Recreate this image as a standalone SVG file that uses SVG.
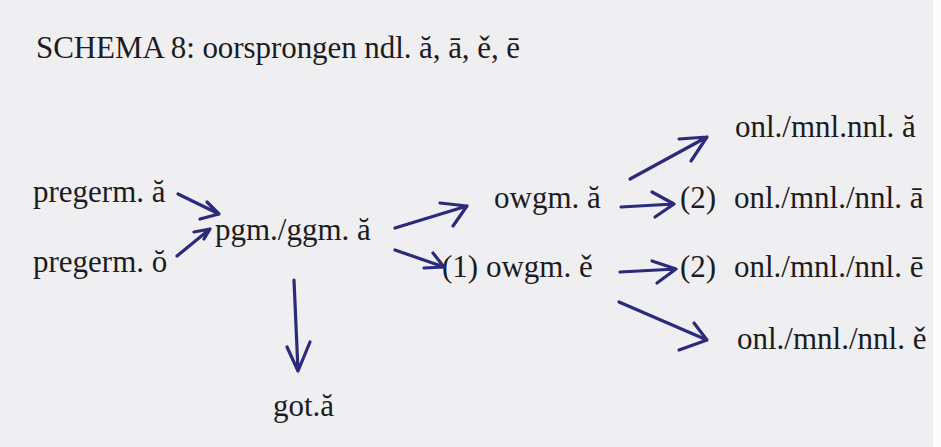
<svg xmlns="http://www.w3.org/2000/svg" width="941" height="447" viewBox="0 0 941 447">
<style>
  .t { font-family: "Liberation Serif", "Times New Roman", Times, serif; font-size: 31px; fill: #1c1c1e; }
  .a { fill: none; stroke: #2c2a7a; stroke-width: 3.2; stroke-linecap: round; stroke-linejoin: round; }
</style>
<rect x="0" y="0" width="941" height="447" fill="#efeef1"/>
<rect x="933" y="0" width="8" height="447" fill="#fbfbfc"/>
<text class="t" x="36" y="58" textLength="484" lengthAdjust="spacing">SCHEMA 8: oorsprongen ndl. ă, ā, ě, ē</text>
<g id="pregerm-a"><text class="t" x="33" y="202">pregerm. ă</text></g>
<g id="pregerm-o"><text class="t" x="33" y="272">pregerm. ŏ</text></g>
<g id="pgm-ggm-a"><text class="t" x="215" y="240">pgm./ggm. ă</text></g>
<g id="got-a"><text class="t" x="273" y="416">got.ă</text></g>
<g id="owgm-a"><text class="t" x="494" y="208">owgm. ă</text></g>
<g id="owgm-e"><text class="t" x="442" y="277">(1) owgm. ě</text></g>
<g id="onl-a-short"><text class="t" x="735" y="137">onl./mnl.nnl. ă</text></g>
<g id="onl-a-long"><text class="t" y="208"><tspan x="680">(2)</tspan><tspan x="734">onl./mnl./nnl. ā</tspan></text></g>
<g id="onl-e-long"><text class="t" y="277"><tspan x="680">(2)</tspan><tspan x="734">onl./mnl./nnl. ē</tspan></text></g>
<g id="onl-e-short"><text class="t" x="737" y="349">onl./mnl./nnl. ě</text></g>
<g id="connectors">
  <path class="a" d="M178 194 L219 214 M207 202 L219 214 L200 219"/>
  <path class="a" d="M177 256 L210 229 M194 232 L210 229 L204 239"/>
  <path class="a" d="M395 228 L467 206 M440 203 L467 206 L453 226"/>
  <path class="a" d="M395 250 L444 267 M433 253 L444 267 L424 268"/>
  <path class="a" d="M294 280 L298 371 M287 347 L298 371 L310 342"/>
  <path class="a" d="M621 207 L674 204 M652 192 L674 204 L655 217"/>
  <path class="a" d="M630 179 L707 137 M679 139 L707 137 L691 161"/>
  <path class="a" d="M620 272 L676 269 M652 261 L676 269 L657 283"/>
  <path class="a" d="M619 302 L707 340 M694 323 L707 340 L679 350"/>
</g>
</svg>
